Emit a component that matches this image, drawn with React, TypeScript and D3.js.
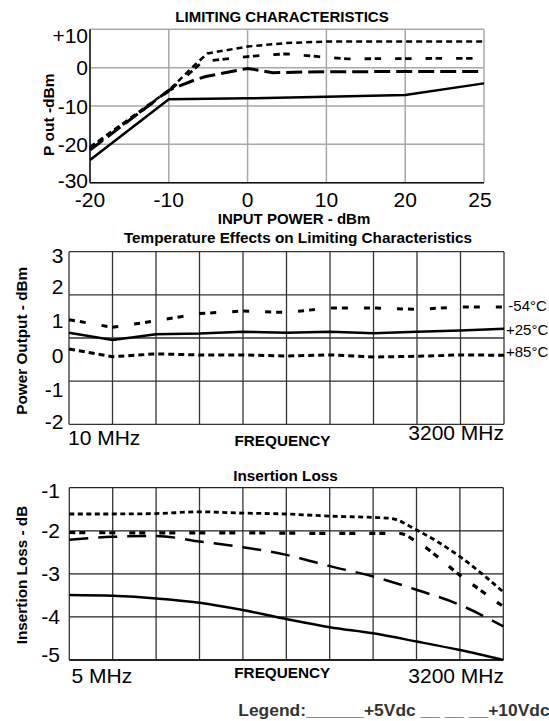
import * as d3 from 'd3';

const FONT = "'Liberation Sans', Arial, Helvetica, sans-serif";

// ---- Limiting characteristics (x = input power dBm, y = Pout dBm)
const inputTicks = [-20, -10, 0, 10, 20, 25];
const poutTicks = [10, 0, -10, -20, -30];
const limit5V: [number, number][] = [[-20, -24.1], [-10, -8.25], [0, -8.0], [10, -7.6], [20, -7.1], [25, -4.1]];
const limit10V: [number, number][] = [[-20, -21.5], [-10, -5.9], [-6.7, -3.2], [-5.3, -2.3], [0, -0.2], [3.2, -1.3], [10, -1.05], [25, -1.0]];
const limitUpper: [number, number][] = [[-20, -20.7], [-10, -5.9], [-6.7, 0.7], [-5.1, 3.7], [0, 5.5], [4.8, 6.4], [10, 6.8], [25, 6.8]];
const limitLower: [number, number][] = [[-20, -21.1], [-10, -6.1], [-7.1, -1.0], [-5.7, 1.6], [0, 2.9], [4.8, 3.6], [10, 2.7], [12.7, 2.3], [25, 2.45]];

// ---- Temperature effects (x = grid column 0..10, 10 MHz .. 3200 MHz)
const tempTicks = [3, 2, 1, 0, -1, -2];
const tempGrid = [3, 1.75, 0.5, -0.75, -2];
const temp54 = [1.03, 0.81, 1.0, 1.21, 1.28, 1.24, 1.37, 1.37, 1.33, 1.4, 1.4];
const temp25 = [0.65, 0.44, 0.61, 0.63, 0.68, 0.65, 0.68, 0.64, 0.68, 0.72, 0.77];
const temp85 = [0.18, -0.04, 0.04, 0.01, 0.01, -0.02, 0.01, -0.05, -0.03, 0.01, 0.0];
const tempLabels = ['-54°C', '+25°C', '+85°C'];

// ---- Insertion loss (x = grid column 0..10, 5 MHz .. 3200 MHz)
const lossTicks = [-1, -2, -3, -4, -5];
const loss5V = [-3.49, -3.51, -3.57, -3.67, -3.84, -4.05, -4.24, -4.38, -4.57, -4.77, -5.0];
const loss10V = [-2.21, -2.14, -2.12, -2.25, -2.38, -2.56, -2.82, -3.06, -3.37, -3.72, -4.22];
const lossUpper: [number, number][] = [[0, -1.61], [1, -1.61], [2, -1.6], [3, -1.56], [4, -1.59], [5, -1.61], [6, -1.66], [7, -1.69], [7.4, -1.71], [8, -1.98], [9, -2.6], [10, -3.42]];
const lossLower: [number, number][] = [[0, -2.04], [2, -2.05], [4, -2.05], [6, -2.06], [7.6, -2.06], [8, -2.25], [9, -3.03], [10, -3.76]];

const columns = d3.range(11);

function LimitingChart() {
  const x = d3.scaleLinear().domain(inputTicks).range(inputTicks.map((_, i) => 90 + i * (394 / 5)));
  const y = d3.scaleLinear().domain([-30, 10]).range([182.7, 29.3]);
  const line = d3.line<[number, number]>().x((d) => x(d[0])).y((d) => y(d[1]));
  const styles = [
    { data: limitUpper, dash: '6 4', w: 2.5 },
    { data: limitLower, dash: '6.5 3.5 6.5 14', w: 2.8 },
    { data: limit10V, dash: '16 6', w: 3 },
    { data: limit5V, dash: undefined, w: 2.5 },
  ];
  return (
    <g>
      <text x={282} y={21.5} textAnchor="middle" fontWeight="bold" fontSize={15}>LIMITING CHARACTERISTICS</text>
      {inputTicks.map((t) => (
        <line key={'vx' + t} x1={x(t)} x2={x(t)} y1={y(10)} y2={y(-30)} stroke="#a8a8a8" strokeWidth={1.5} />
      ))}
      {poutTicks.map((t) => (
        <line key={'hy' + t} x1={x(-20)} x2={x(25)} y1={y(t)} y2={y(t)} stroke="#a8a8a8" strokeWidth={1.5} />
      ))}
      <line x1={x(-20)} x2={x(-20)} y1={y(10)} y2={y(-30)} stroke="#111" strokeWidth={1.5} />
      <line x1={x(-20)} x2={x(25)} y1={y(-30)} y2={y(-30)} stroke="#111" strokeWidth={1.5} />
      {styles.map((s, i) => (
        <path key={i} d={line(s.data) ?? ''} fill="none" stroke="#000" strokeWidth={s.w} strokeDasharray={s.dash} />
      ))}
      {poutTicks.map((t) => (
        <text key={'yl' + t} x={88} y={Math.min(Math.max(y(t), 35), 180)} dy="0.36em" textAnchor="end" fontSize={21}>
          {t > 0 ? `+${t}` : t}
        </text>
      ))}
      {inputTicks.map((t, i) => (
        <text key={'xl' + t} x={x(t) - (i === inputTicks.length - 1 ? 4 : 0)} y={207} textAnchor="middle" fontSize={21}>{t}</text>
      ))}
      <text x={294} y={224} textAnchor="middle" fontWeight="bold" fontSize={15}>INPUT POWER - dBm</text>
      <text transform="translate(53.5,114.7) rotate(-90)" textAnchor="middle" fontWeight="bold" fontSize={15.5}>P out -dBm</text>
    </g>
  );
}

function TemperatureChart() {
  const x = d3.scaleLinear().domain([0, 10]).range([69, 504]);
  const y = d3.scaleLinear().domain([-2, 3]).range([424.3, 251.7]);
  const line = d3.line<number>().x((_, i) => x(i)).y((d) => y(d));
  const series = [
    { data: temp54, dash: '6 5 6 16', w: 3 },
    { data: temp25, dash: undefined, w: 2.5 },
    { data: temp85, dash: '6 4', w: 3 },
  ];
  const labelY = [311, 335, 356.7];
  const labelX = [508.3, 506, 506];
  return (
    <g>
      <text x={298} y={243.3} textAnchor="middle" fontWeight="bold" fontSize={15.3}>Temperature Effects on Limiting Characteristics</text>
      {columns.map((c) => (
        <line key={'v' + c} x1={x(c)} x2={x(c)} y1={y(3)} y2={y(-2)} stroke="#333" strokeWidth={1.3} />
      ))}
      {tempGrid.map((g) => (
        <line key={'h' + g} x1={x(0)} x2={x(10)} y1={y(g)} y2={y(g)} stroke="#333" strokeWidth={1.3} />
      ))}
      {series.map((s, i) => (
        <path key={i} d={line(s.data) ?? ''} fill="none" stroke="#000" strokeWidth={s.w} strokeDasharray={s.dash} />
      ))}
      {tempTicks.map((t) => (
        <text key={'yl' + t} x={63.5} y={Math.min(Math.max(y(t), 255), 421.5)} dy="0.36em" textAnchor="end" fontSize={21}>{t}</text>
      ))}
      {tempLabels.map((l, i) => (
        <text key={l} x={labelX[i]} y={labelY[i]} fontSize={15}>{l}</text>
      ))}
      <text x={68} y={445} fontSize={21}>10 MHz</text>
      <text x={282.5} y={446} textAnchor="middle" fontWeight="bold" fontSize={15.3}>FREQUENCY</text>
      <text x={504} y={440} textAnchor="end" fontSize={21}>3200 MHz</text>
      <text transform="translate(27.3,340.8) rotate(-90)" textAnchor="middle" fontWeight="bold" fontSize={15.3}>Power Output - dBm</text>
    </g>
  );
}

function InsertionLossChart() {
  const x = d3.scaleLinear().domain([0, 10]).range([69.3, 503.3]);
  const y = d3.scaleLinear().domain([-5, -1]).range([660, 487.7]);
  const lineIdx = d3.line<number>().x((_, i) => x(i)).y((d) => y(d)).curve(d3.curveMonotoneX);
  const linePts = d3.line<[number, number]>().x((d) => x(d[0])).y((d) => y(d[1])).curve(d3.curveMonotoneX);
  return (
    <g>
      <text x={285.5} y={480.7} textAnchor="middle" fontWeight="bold" fontSize={15.3}>Insertion Loss</text>
      {columns.map((c) => (
        <line key={'v' + c} x1={x(c)} x2={x(c)} y1={y(-1)} y2={y(-5)} stroke="#333" strokeWidth={1.3} />
      ))}
      {lossTicks.map((t) => (
        <line key={'h' + t} x1={x(0)} x2={x(10)} y1={y(t)} y2={y(t)} stroke="#222" strokeWidth={t === -5 ? 2 : 1.3} />
      ))}
      <path d={linePts(lossUpper) ?? ''} fill="none" stroke="#000" strokeWidth={2.8} strokeDasharray="5 3.5" />
      <path d={linePts(lossLower) ?? ''} fill="none" stroke="#000" strokeWidth={3.2} strokeDasharray="6 4 6 14" />
      <path d={lineIdx(loss10V) ?? ''} fill="none" stroke="#000" strokeWidth={2.5} strokeDasharray="19 10" />
      <path d={lineIdx(loss5V) ?? ''} fill="none" stroke="#000" strokeWidth={2.5} />
      {lossTicks.map((t) => (
        <text key={'yl' + t} x={60} y={Math.min(Math.max(y(t), 490), 654)} dy="0.36em" textAnchor="end" fontSize={21}>{t}</text>
      ))}
      <text x={71.5} y={683.3} fontSize={21}>5 MHz</text>
      <text x={282.3} y={678.3} textAnchor="middle" fontWeight="bold" fontSize={15.3}>FREQUENCY</text>
      <text x={504} y={683.3} textAnchor="end" fontSize={21}>3200 MHz</text>
      <text transform="translate(27,575) rotate(-90)" textAnchor="middle" fontWeight="bold" fontSize={15.3}>Insertion Loss - dB</text>
      <text x={238.3} y={715.5} fontWeight="bold" fontSize={17.4} fill="#333">Legend:______+5Vdc __ __ __+10Vdc</text>
    </g>
  );
}

export default function App() {
  return (
    <svg
      width={549}
      height={721}
      style={{ position: 'absolute', left: 0, top: 0, background: '#fff' }}
      fontFamily={FONT}
    >
      <rect width={549} height={721} fill="#fff" />
      <LimitingChart />
      <TemperatureChart />
      <InsertionLossChart />
    </svg>
  );
}
